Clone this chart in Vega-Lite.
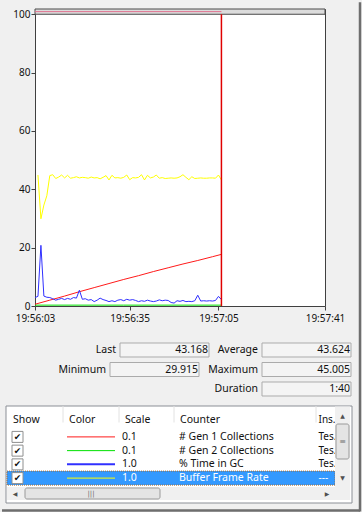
{
"$schema": "https://vega.github.io/schema/vega-lite/v6.json",
"background": "#f0f0f0",
"padding": 0,
"spacing": 0,
"bounds": "flush",
"config": {
  "font": "Noto Sans",
  "view": {"stroke": null},
  "text": {"font": "Noto Sans", "fontSize": 10, "color": "#111111", "baseline": "middle"}
},
"vconcat": [
{
  "width": 290, "height": 297,
  "view": {"stroke": "#404040", "fill": "#ffffff"},
  "layer": [
    {
      "data": {"values": [{}]},
      "mark": {"type": "rect", "fill": "#dcdcdc", "stroke": "#4a4a4a", "strokeWidth": 1},
      "encoding": {
        "x": {"datum": {"year":1900,"month":1,"date":1,"hours":19,"minutes":56,"seconds":3}, "type": "temporal"},
        "x2": {"datum": {"year":1900,"month":1,"date":1,"hours":19,"minutes":57,"seconds":41}},
        "y": {"datum": 100, "type": "quantitative"},
        "y2": {"datum": 101.8}
      }
    },
    {
      "data": {"values": [{}]},
      "mark": {"type": "rule", "color": "#e0708e", "strokeWidth": 1},
      "encoding": {
        "x": {"datum": {"year":1900,"month":1,"date":1,"hours":19,"minutes":56,"seconds":3}, "type": "temporal"},
        "x2": {"datum": {"year":1900,"month":1,"date":1,"hours":19,"minutes":57,"seconds":6}},
        "y": {"datum": 100.9, "type": "quantitative"}
      }
    },
    {
      "data": {
        "format": {"parse": {"time": "date:'%H:%M:%S'"}},
        "values": [
{"time":"19:56:03","counter":"# Gen 2 Collections","value":0.3},
{"time":"19:56:33","counter":"# Gen 2 Collections","value":0.3},
{"time":"19:57:06","counter":"# Gen 2 Collections","value":0.3},
{"time":"19:56:03","counter":"# Gen 1 Collections","value":0.6},
{"time":"19:56:08","counter":"# Gen 1 Collections","value":2.0},
{"time":"19:56:13","counter":"# Gen 1 Collections","value":3.4},
{"time":"19:56:18","counter":"# Gen 1 Collections","value":4.9},
{"time":"19:56:23","counter":"# Gen 1 Collections","value":6.3},
{"time":"19:56:28","counter":"# Gen 1 Collections","value":7.7},
{"time":"19:56:33","counter":"# Gen 1 Collections","value":9.1},
{"time":"19:56:38","counter":"# Gen 1 Collections","value":10.4},
{"time":"19:56:43","counter":"# Gen 1 Collections","value":11.8},
{"time":"19:56:48","counter":"# Gen 1 Collections","value":13.1},
{"time":"19:56:53","counter":"# Gen 1 Collections","value":14.4},
{"time":"19:56:58","counter":"# Gen 1 Collections","value":15.6},
{"time":"19:57:03","counter":"# Gen 1 Collections","value":16.9},
{"time":"19:57:06","counter":"# Gen 1 Collections","value":17.7},
{"time":"19:56:03","counter":"% Time in GC","value":2.9},
{"time":"19:56:04","counter":"% Time in GC","value":3.3},
{"time":"19:56:05","counter":"% Time in GC","value":20.8},
{"time":"19:56:06","counter":"% Time in GC","value":3.4},
{"time":"19:56:07","counter":"% Time in GC","value":3.0},
{"time":"19:56:08","counter":"% Time in GC","value":2.9},
{"time":"19:56:09","counter":"% Time in GC","value":2.5},
{"time":"19:56:10","counter":"% Time in GC","value":2.0},
{"time":"19:56:11","counter":"% Time in GC","value":2.3},
{"time":"19:56:12","counter":"% Time in GC","value":2.6},
{"time":"19:56:13","counter":"% Time in GC","value":2.2},
{"time":"19:56:14","counter":"% Time in GC","value":2.6},
{"time":"19:56:15","counter":"% Time in GC","value":2.3},
{"time":"19:56:16","counter":"% Time in GC","value":2.9},
{"time":"19:56:17","counter":"% Time in GC","value":2.7},
{"time":"19:56:18","counter":"% Time in GC","value":5.4},
{"time":"19:56:19","counter":"% Time in GC","value":2.3},
{"time":"19:56:20","counter":"% Time in GC","value":2.5},
{"time":"19:56:21","counter":"% Time in GC","value":2.0},
{"time":"19:56:22","counter":"% Time in GC","value":2.2},
{"time":"19:56:23","counter":"% Time in GC","value":1.5},
{"time":"19:56:24","counter":"% Time in GC","value":2.0},
{"time":"19:56:25","counter":"% Time in GC","value":2.7},
{"time":"19:56:26","counter":"% Time in GC","value":2.2},
{"time":"19:56:27","counter":"% Time in GC","value":1.9},
{"time":"19:56:28","counter":"% Time in GC","value":1.5},
{"time":"19:56:29","counter":"% Time in GC","value":1.8},
{"time":"19:56:30","counter":"% Time in GC","value":1.5},
{"time":"19:56:31","counter":"% Time in GC","value":2.0},
{"time":"19:56:32","counter":"% Time in GC","value":2.2},
{"time":"19:56:33","counter":"% Time in GC","value":1.8},
{"time":"19:56:34","counter":"% Time in GC","value":2.3},
{"time":"19:56:35","counter":"% Time in GC","value":2.0},
{"time":"19:56:36","counter":"% Time in GC","value":2.2},
{"time":"19:56:37","counter":"% Time in GC","value":1.9},
{"time":"19:56:38","counter":"% Time in GC","value":1.5},
{"time":"19:56:39","counter":"% Time in GC","value":1.8},
{"time":"19:56:40","counter":"% Time in GC","value":1.6},
{"time":"19:56:41","counter":"% Time in GC","value":2.0},
{"time":"19:56:42","counter":"% Time in GC","value":1.7},
{"time":"19:56:43","counter":"% Time in GC","value":1.5},
{"time":"19:56:44","counter":"% Time in GC","value":1.7},
{"time":"19:56:45","counter":"% Time in GC","value":2.1},
{"time":"19:56:46","counter":"% Time in GC","value":1.8},
{"time":"19:56:47","counter":"% Time in GC","value":2.0},
{"time":"19:56:48","counter":"% Time in GC","value":1.9},
{"time":"19:56:49","counter":"% Time in GC","value":1.2},
{"time":"19:56:50","counter":"% Time in GC","value":1.0},
{"time":"19:56:51","counter":"% Time in GC","value":1.8},
{"time":"19:56:52","counter":"% Time in GC","value":1.6},
{"time":"19:56:53","counter":"% Time in GC","value":1.9},
{"time":"19:56:54","counter":"% Time in GC","value":1.5},
{"time":"19:56:55","counter":"% Time in GC","value":1.6},
{"time":"19:56:56","counter":"% Time in GC","value":1.5},
{"time":"19:56:57","counter":"% Time in GC","value":1.8},
{"time":"19:56:58","counter":"% Time in GC","value":3.7},
{"time":"19:56:59","counter":"% Time in GC","value":1.7},
{"time":"19:57:00","counter":"% Time in GC","value":1.8},
{"time":"19:57:01","counter":"% Time in GC","value":1.7},
{"time":"19:57:02","counter":"% Time in GC","value":1.8},
{"time":"19:57:03","counter":"% Time in GC","value":1.7},
{"time":"19:57:04","counter":"% Time in GC","value":1.9},
{"time":"19:57:05","counter":"% Time in GC","value":3.3},
{"time":"19:57:06","counter":"% Time in GC","value":2.2},
{"time":"19:56:04","counter":"Buffer Frame Rate","value":44.9},
{"time":"19:56:05","counter":"Buffer Frame Rate","value":29.9},
{"time":"19:56:06","counter":"Buffer Frame Rate","value":34.6},
{"time":"19:56:07","counter":"Buffer Frame Rate","value":37.8},
{"time":"19:56:08","counter":"Buffer Frame Rate","value":44.7},
{"time":"19:56:09","counter":"Buffer Frame Rate","value":45.0},
{"time":"19:56:10","counter":"Buffer Frame Rate","value":43.7},
{"time":"19:56:11","counter":"Buffer Frame Rate","value":44.2},
{"time":"19:56:12","counter":"Buffer Frame Rate","value":44.9},
{"time":"19:56:13","counter":"Buffer Frame Rate","value":43.9},
{"time":"19:56:14","counter":"Buffer Frame Rate","value":44.8},
{"time":"19:56:15","counter":"Buffer Frame Rate","value":43.8},
{"time":"19:56:16","counter":"Buffer Frame Rate","value":44.0},
{"time":"19:56:17","counter":"Buffer Frame Rate","value":44.3},
{"time":"19:56:18","counter":"Buffer Frame Rate","value":43.9},
{"time":"19:56:19","counter":"Buffer Frame Rate","value":44.1},
{"time":"19:56:20","counter":"Buffer Frame Rate","value":44.0},
{"time":"19:56:21","counter":"Buffer Frame Rate","value":43.8},
{"time":"19:56:22","counter":"Buffer Frame Rate","value":44.2},
{"time":"19:56:23","counter":"Buffer Frame Rate","value":43.9},
{"time":"19:56:24","counter":"Buffer Frame Rate","value":44.0},
{"time":"19:56:25","counter":"Buffer Frame Rate","value":43.6},
{"time":"19:56:26","counter":"Buffer Frame Rate","value":44.1},
{"time":"19:56:27","counter":"Buffer Frame Rate","value":44.7},
{"time":"19:56:28","counter":"Buffer Frame Rate","value":43.2},
{"time":"19:56:29","counter":"Buffer Frame Rate","value":44.8},
{"time":"19:56:30","counter":"Buffer Frame Rate","value":43.9},
{"time":"19:56:31","counter":"Buffer Frame Rate","value":44.0},
{"time":"19:56:32","counter":"Buffer Frame Rate","value":43.8},
{"time":"19:56:33","counter":"Buffer Frame Rate","value":44.1},
{"time":"19:56:34","counter":"Buffer Frame Rate","value":44.9},
{"time":"19:56:35","counter":"Buffer Frame Rate","value":43.3},
{"time":"19:56:36","counter":"Buffer Frame Rate","value":44.0},
{"time":"19:56:37","counter":"Buffer Frame Rate","value":43.9},
{"time":"19:56:38","counter":"Buffer Frame Rate","value":44.1},
{"time":"19:56:39","counter":"Buffer Frame Rate","value":45.0},
{"time":"19:56:40","counter":"Buffer Frame Rate","value":43.2},
{"time":"19:56:41","counter":"Buffer Frame Rate","value":44.8},
{"time":"19:56:42","counter":"Buffer Frame Rate","value":43.9},
{"time":"19:56:43","counter":"Buffer Frame Rate","value":44.2},
{"time":"19:56:44","counter":"Buffer Frame Rate","value":44.9},
{"time":"19:56:45","counter":"Buffer Frame Rate","value":43.8},
{"time":"19:56:46","counter":"Buffer Frame Rate","value":44.0},
{"time":"19:56:47","counter":"Buffer Frame Rate","value":43.7},
{"time":"19:56:48","counter":"Buffer Frame Rate","value":43.8},
{"time":"19:56:49","counter":"Buffer Frame Rate","value":43.9},
{"time":"19:56:50","counter":"Buffer Frame Rate","value":43.8},
{"time":"19:56:51","counter":"Buffer Frame Rate","value":43.9},
{"time":"19:56:52","counter":"Buffer Frame Rate","value":44.3},
{"time":"19:56:53","counter":"Buffer Frame Rate","value":45.0},
{"time":"19:56:54","counter":"Buffer Frame Rate","value":44.1},
{"time":"19:56:55","counter":"Buffer Frame Rate","value":43.3},
{"time":"19:56:56","counter":"Buffer Frame Rate","value":44.3},
{"time":"19:56:57","counter":"Buffer Frame Rate","value":43.7},
{"time":"19:56:58","counter":"Buffer Frame Rate","value":43.8},
{"time":"19:56:59","counter":"Buffer Frame Rate","value":43.9},
{"time":"19:57:00","counter":"Buffer Frame Rate","value":43.8},
{"time":"19:57:01","counter":"Buffer Frame Rate","value":43.8},
{"time":"19:57:02","counter":"Buffer Frame Rate","value":43.9},
{"time":"19:57:03","counter":"Buffer Frame Rate","value":43.9},
{"time":"19:57:04","counter":"Buffer Frame Rate","value":43.8},
{"time":"19:57:05","counter":"Buffer Frame Rate","value":44.9},
{"time":"19:57:06","counter":"Buffer Frame Rate","value":43.2}
        ]
      },
      "mark": {"type": "line", "strokeWidth": 1},
      "encoding": {
        "x": {"field": "time", "type": "temporal",
              "scale": {"domain": [{"year":1900,"month":1,"date":1,"hours":19,"minutes":56,"seconds":3}, {"year":1900,"month":1,"date":1,"hours":19,"minutes":57,"seconds":41}], "nice": false},
              "axis": {"values": [{"year":1900,"month":1,"date":1,"hours":19,"minutes":56,"seconds":3}, {"year":1900,"month":1,"date":1,"hours":19,"minutes":56,"seconds":35}, {"year":1900,"month":1,"date":1,"hours":19,"minutes":57,"seconds":5}, {"year":1900,"month":1,"date":1,"hours":19,"minutes":57,"seconds":41}],
                       "format": "%H:%M:%S", "title": null, "grid": false, "domain": false, "tickSize": 4, "tickColor": "#404040",
                       "labelPadding": 3, "labelFont": "Noto Sans", "labelFontSize": 10, "labelColor": "#111111", "labelFlush": false, "labelOverlap": false,
                       "minExtent": 25, "maxExtent": 25}},
        "y": {"field": "value", "type": "quantitative",
              "scale": {"domain": [0, 101.8], "nice": false, "zero": false},
              "axis": {"values": [0, 20, 40, 60, 80, 100], "title": null, "grid": false, "domain": false, "tickSize": 4, "tickColor": "#404040",
                       "labelPadding": 1, "labelFont": "Noto Sans", "labelFontSize": 10, "labelColor": "#111111", "minExtent": 34, "maxExtent": 34}},
        "color": {"field": "counter", "type": "nominal",
                  "scale": {"domain": ["# Gen 1 Collections", "# Gen 2 Collections", "% Time in GC", "Buffer Frame Rate"], "range": ["#ff1a1a", "#00e000", "#3030ff", "#ffff00"]},
                  "legend": null},
        "strokeWidth": {"condition": {"test": "datum.counter === '# Gen 2 Collections' || datum.counter === '% Time in GC'", "value": 1.5}, "value": 1}
      }
    },
    {
      "data": {"values": [{}]},
      "mark": {"type": "rule", "color": "#e00000", "strokeWidth": 1.5},
      "encoding": {
        "x": {"datum": {"year":1900,"month":1,"date":1,"hours":19,"minutes":57,"seconds":6}, "type": "temporal"},
        "y": {"datum": 0, "type": "quantitative"},
        "y2": {"datum": 100}
      }
    },
    {
      "data": {"values": [{}]},
      "mark": {"type": "rule", "color": "#6e6e6e", "strokeWidth": 2.5},
      "encoding": {
        "x": {"datum": {"year":1900,"month":1,"date":1,"hours":19,"minutes":57,"seconds":52,"milliseconds":830}, "type": "temporal"},
        "y": {"datum": -8.57, "type": "quantitative"},
        "y2": {"datum": 104.1}
      }
    }
  ]
},
{
  "width": 328, "height": 95,
  "data": {"values": [
    {"stat": "Last", "value": "43.168", "column": 1, "line": 1},
    {"stat": "Average", "value": "43.624", "column": 2, "line": 1},
    {"stat": "Minimum", "value": "29.915", "column": 1, "line": 2},
    {"stat": "Maximum", "value": "45.005", "column": 2, "line": 2},
    {"stat": "Duration", "value": "1:40", "column": 2, "line": 3}
  ]},
  "layer": [
    {
      "transform": [{"filter": "datum.stat !== 'Last'"}],
      "mark": {"type": "rect", "xOffset": 4, "x2Offset": 93, "yOffset": -7, "y2Offset": 7, "fill": "#f4f4f4", "stroke": "#ababab", "strokeWidth": 1},
      "encoding": {
        "x": {"field": "column", "type": "quantitative", "scale": {"domain": [1, 2], "range": [71, 223], "nice": false, "zero": false}, "axis": null},
        "x2": {"field": "column"},
        "y": {"field": "line", "type": "quantitative", "scale": {"domain": [1, 3], "range": [44, 83], "nice": false, "zero": false}, "axis": null},
        "y2": {"field": "line"}
      }
    },
    {
      "transform": [{"filter": "datum.stat === 'Last'"}],
      "mark": {"type": "rect", "xOffset": 14, "x2Offset": 103, "yOffset": -7, "y2Offset": 7, "fill": "#f4f4f4", "stroke": "#ababab", "strokeWidth": 1},
      "encoding": {
        "x": {"field": "column", "type": "quantitative", "axis": null},
        "x2": {"field": "column"},
        "y": {"field": "line", "type": "quantitative", "axis": null},
        "y2": {"field": "line"}
      }
    },
    {
      "transform": [{"filter": "datum.stat !== 'Last'"}],
      "mark": {"type": "text", "align": "right", "baseline": "middle", "fontSize": 10.5},
      "encoding": {
        "x": {"field": "column", "type": "quantitative", "axis": null},
        "y": {"field": "line", "type": "quantitative", "axis": null},
        "text": {"field": "stat"}
      }
    },
    {
      "transform": [{"filter": "datum.stat === 'Last'"}],
      "mark": {"type": "text", "align": "right", "baseline": "middle", "fontSize": 10.5, "dx": 10},
      "encoding": {
        "x": {"field": "column", "type": "quantitative", "axis": null},
        "y": {"field": "line", "type": "quantitative", "axis": null},
        "text": {"field": "stat"}
      }
    },
    {
      "transform": [{"filter": "datum.stat !== 'Last'"}],
      "mark": {"type": "text", "align": "right", "baseline": "middle", "fontSize": 10.5, "dx": 92},
      "encoding": {
        "x": {"field": "column", "type": "quantitative", "axis": null},
        "y": {"field": "line", "type": "quantitative", "axis": null},
        "text": {"field": "value"}
      }
    },
    {
      "transform": [{"filter": "datum.stat === 'Last'"}],
      "mark": {"type": "text", "align": "right", "baseline": "middle", "fontSize": 10.5, "dx": 102},
      "encoding": {
        "x": {"field": "column", "type": "quantitative", "axis": null},
        "y": {"field": "line", "type": "quantitative", "axis": null},
        "text": {"field": "value"}
      }
    },
    {
      "data": {"values": [{}]},
      "mark": {"type": "rule", "color": "#6e6e6e", "strokeWidth": 2.5, "yOffset": -19, "y2Offset": 12},
      "encoding": {
        "x": {"datum": 2.671, "type": "quantitative", "axis": null},
        "y": {"datum": 1, "type": "quantitative", "axis": null},
        "y2": {"datum": 3}
      }
    }
  ]
},
{
  "width": 328, "height": 112,
  "data": {"values": [
    {"row": 1, "counter": "# Gen 1 Collections", "scale": "0.1", "instance": "TestApp", "selected": false},
    {"row": 2, "counter": "# Gen 2 Collections", "scale": "0.1", "instance": "TestApp", "selected": false},
    {"row": 3, "counter": "% Time in GC", "scale": "1.0", "instance": "TestApp", "selected": false},
    {"row": 4, "counter": "Buffer Frame Rate", "scale": "1.0", "instance": "---", "selected": true}
  ]},
  "layer": [
    {
      "data": {"values": [{}]},
      "mark": {"type": "rect", "xOffset": -1, "x2Offset": 2, "yOffset": -12.5, "y2Offset": 9.5, "fill": "#ffffff", "stroke": "#8b8f96", "strokeWidth": 1},
      "encoding": {
        "x": {"datum": 1, "type": "quantitative", "scale": {"domain": [1, 2, 3, 4, 5, 6, 7], "range": [-28, 28, 84, 139, 281, 300, 315], "nice": false, "zero": false}, "axis": null},
        "x2": {"datum": 7},
        "y": {"datum": 0, "type": "quantitative", "scale": {"domain": [0, 1, 4, 5], "range": [17.5, 35.9, 77.1, 92.5], "nice": false, "zero": false}, "axis": null},
        "y2": {"datum": 5}
      }
    },
    {
      "data": {"values": [{"col": 1, "label": "Show"}, {"col": 2, "label": "Color"}, {"col": 3, "label": "Scale"}, {"col": 4, "label": "Counter"}, {"col": 5, "label": "Instance"}]},
      "transform": [{"filter": "datum.col >= 2"}],
      "mark": {"type": "rule", "color": "#e2e2e2", "yOffset": -12.5, "y2Offset": 4},
      "encoding": {
        "x": {"field": "col", "type": "quantitative", "axis": null},
        "y": {"datum": 0, "type": "quantitative", "axis": null},
        "y2": {"datum": 0}
      }
    },
    {
      "data": {"values": [{"col": 1, "label": "Show"}, {"col": 2, "label": "Color"}, {"col": 3, "label": "Scale"}, {"col": 4, "label": "Counter"}, {"col": 5, "label": "Instance"}]},
      "transform": [{"filter": "datum.col <= 4"}],
      "mark": {"type": "text", "align": "left", "baseline": "middle", "fontSize": 10.5, "dx": 6, "dy": 1},
      "encoding": {
        "x": {"field": "col", "type": "quantitative", "axis": null},
        "y": {"datum": 0, "type": "quantitative", "axis": null},
        "text": {"field": "label"}
      }
    },
    {
      "data": {"values": [{"col": 1, "label": "Show"}, {"col": 2, "label": "Color"}, {"col": 3, "label": "Scale"}, {"col": 4, "label": "Counter"}, {"col": 5, "label": "Instance"}]},
      "transform": [{"filter": "datum.col === 5"}],
      "mark": {"type": "text", "align": "left", "baseline": "middle", "fontSize": 10, "dx": 2.5, "dy": 1, "limit": 24.5, "ellipsis": ""},
      "encoding": {
        "x": {"field": "col", "type": "quantitative", "axis": null},
        "y": {"datum": 0, "type": "quantitative", "axis": null},
        "text": {"field": "label"}
      }
    },
    {
      "transform": [{"filter": "datum.selected"}],
      "mark": {"type": "rect", "yOffset": -7, "y2Offset": 7, "fill": "#3399ff", "stroke": "#a86a2e", "strokeDash": [1, 1], "strokeWidth": 1},
      "encoding": {
        "x": {"datum": 1, "type": "quantitative", "axis": null},
        "x2": {"datum": 6},
        "y": {"field": "row", "type": "quantitative", "axis": null},
        "y2": {"field": "row"}
      }
    },
    {
      "mark": {"type": "rect", "xOffset": 5, "x2Offset": 16, "yOffset": -5.5, "y2Offset": 5.5, "fill": "#ffffff", "stroke": "#8e8f8f", "strokeWidth": 1},
      "encoding": {
        "x": {"datum": 1, "type": "quantitative", "axis": null},
        "x2": {"datum": 1},
        "y": {"field": "row", "type": "quantitative", "axis": null},
        "y2": {"field": "row"}
      }
    },
    {
      "mark": {"type": "text", "align": "center", "baseline": "middle", "dx": 10.5, "font": "DejaVu Sans", "fontSize": 9, "color": "#111111"},
      "encoding": {
        "x": {"datum": 1, "type": "quantitative", "axis": null},
        "y": {"field": "row", "type": "quantitative", "axis": null},
        "text": {"value": "✔"}
      }
    },
    {
      "mark": {"type": "rule", "xOffset": 4, "x2Offset": 52},
      "encoding": {
        "x": {"datum": 2, "type": "quantitative", "axis": null},
        "x2": {"datum": 2},
        "y": {"field": "row", "type": "quantitative", "axis": null},
        "color": {"field": "counter", "type": "nominal",
                  "scale": {"domain": ["# Gen 1 Collections", "# Gen 2 Collections", "% Time in GC", "Buffer Frame Rate"], "range": ["#ff1a1a", "#00e000", "#3030ff", "#ffff00"]},
                  "legend": null},
        "strokeWidth": {"condition": {"test": "datum.counter === '% Time in GC'", "value": 2}, "value": 1}
      }
    },
    {
      "mark": {"type": "text", "align": "left", "baseline": "middle", "fontSize": 10.5, "dx": 3},
      "encoding": {
        "x": {"datum": 3, "type": "quantitative", "axis": null},
        "y": {"field": "row", "type": "quantitative", "axis": null},
        "text": {"field": "scale"},
        "color": {"condition": {"test": "datum.selected", "value": "#ffffff"}, "value": "#111111"}
      }
    },
    {
      "mark": {"type": "text", "align": "left", "baseline": "middle", "fontSize": 10.5, "dx": 5},
      "encoding": {
        "x": {"datum": 4, "type": "quantitative", "axis": null},
        "y": {"field": "row", "type": "quantitative", "axis": null},
        "text": {"field": "counter"},
        "color": {"condition": {"test": "datum.selected", "value": "#ffffff"}, "value": "#111111"}
      }
    },
    {
      "mark": {"type": "text", "align": "left", "baseline": "middle", "fontSize": 10, "dx": 2.5, "limit": 24.5, "ellipsis": ""},
      "encoding": {
        "x": {"datum": 5, "type": "quantitative", "axis": null},
        "y": {"field": "row", "type": "quantitative", "axis": null},
        "text": {"field": "instance"},
        "color": {"condition": {"test": "datum.selected", "value": "#ffffff"}, "value": "#111111"}
      }
    },
    {
      "data": {"values": [{}]},
      "mark": {"type": "rect", "yOffset": -12, "y2Offset": 6.5, "fill": "#f0f0f0"},
      "encoding": {
        "x": {"datum": 6, "type": "quantitative", "axis": null},
        "x2": {"datum": 7},
        "y": {"datum": 0, "type": "quantitative", "axis": null},
        "y2": {"datum": 5}
      }
    },
    {
      "data": {"values": [{}]},
      "mark": {"type": "rect", "yOffset": -6.5, "y2Offset": 6.5, "fill": "#f0f0f0"},
      "encoding": {
        "x": {"datum": 1, "type": "quantitative", "axis": null},
        "x2": {"datum": 6},
        "y": {"datum": 5, "type": "quantitative", "axis": null},
        "y2": {"datum": 5}
      }
    },
    {
      "data": {"values": [{}]},
      "mark": {"type": "rect", "xOffset": 1, "x2Offset": -1, "yOffset": 5.5, "y2Offset": 40.5, "fill": "#e4e4e4", "stroke": "#9a9a9a", "strokeWidth": 1, "cornerRadius": 2},
      "encoding": {
        "x": {"datum": 6, "type": "quantitative", "axis": null},
        "x2": {"datum": 7},
        "y": {"datum": 0, "type": "quantitative", "axis": null},
        "y2": {"datum": 0}
      }
    },
    {
      "data": {"values": [{}]},
      "mark": {"type": "rect", "xOffset": 18, "x2Offset": 153, "yOffset": -5.5, "y2Offset": 5.5, "fill": "#e4e4e4", "stroke": "#9a9a9a", "strokeWidth": 1, "cornerRadius": 2},
      "encoding": {
        "x": {"datum": 1, "type": "quantitative", "axis": null},
        "x2": {"datum": 1},
        "y": {"datum": 5, "type": "quantitative", "axis": null},
        "y2": {"datum": 5}
      }
    },
    {
      "data": {"values": [{}]},
      "mark": {"type": "text", "align": "center", "baseline": "middle", "font": "DejaVu Sans", "fontSize": 6, "color": "#505050", "dx": 7.5, "dy": -2.5},
      "encoding": {"x": {"datum": 6, "type": "quantitative", "axis": null}, "y": {"datum": 0, "type": "quantitative", "axis": null}, "text": {"value": "▲"}}
    },
    {
      "data": {"values": [{}]},
      "mark": {"type": "text", "align": "center", "baseline": "middle", "font": "DejaVu Sans", "fontSize": 6, "color": "#505050", "dx": 7.5, "dy": -0.5},
      "encoding": {"x": {"datum": 6, "type": "quantitative", "axis": null}, "y": {"datum": 4, "type": "quantitative", "axis": null}, "text": {"value": "▼"}}
    },
    {
      "data": {"values": [{}]},
      "mark": {"type": "text", "align": "center", "baseline": "middle", "font": "DejaVu Sans", "fontSize": 8, "color": "#707070", "dx": 7.5, "dy": 23},
      "encoding": {"x": {"datum": 6, "type": "quantitative", "axis": null}, "y": {"datum": 0, "type": "quantitative", "axis": null}, "text": {"value": "≡"}}
    },
    {
      "data": {"values": [{}]},
      "mark": {"type": "text", "align": "center", "baseline": "middle", "font": "DejaVu Sans", "fontSize": 6, "color": "#505050", "dx": 8},
      "encoding": {"x": {"datum": 1, "type": "quantitative", "axis": null}, "y": {"datum": 5, "type": "quantitative", "axis": null}, "text": {"value": "◀"}}
    },
    {
      "data": {"values": [{}]},
      "mark": {"type": "text", "align": "center", "baseline": "middle", "font": "DejaVu Sans", "fontSize": 6, "color": "#505050", "dx": -8},
      "encoding": {"x": {"datum": 6, "type": "quantitative", "axis": null}, "y": {"datum": 5, "type": "quantitative", "axis": null}, "text": {"value": "▶"}}
    },
    {
      "data": {"values": [{}]},
      "mark": {"type": "text", "align": "center", "baseline": "middle", "font": "DejaVu Sans", "fontSize": 7, "color": "#707070", "dx": 84},
      "encoding": {"x": {"datum": 1, "type": "quantitative", "axis": null}, "y": {"datum": 5, "type": "quantitative", "axis": null}, "text": {"value": "|||"}}
    },
    {
      "data": {"values": [{}]},
      "mark": {"type": "rule", "color": "#6e6e6e", "strokeWidth": 2.5, "xOffset": -5, "x2Offset": 10, "yOffset": 17},
      "encoding": {
        "x": {"datum": 1, "type": "quantitative", "axis": null},
        "x2": {"datum": 7},
        "y": {"datum": 5, "type": "quantitative", "axis": null}
      }
    },
    {
      "data": {"values": [{}]},
      "mark": {"type": "rule", "color": "#6e6e6e", "strokeWidth": 2.5, "xOffset": 10, "yOffset": -17.5, "y2Offset": 18},
      "encoding": {
        "x": {"datum": 7, "type": "quantitative", "axis": null},
        "y": {"datum": 0, "type": "quantitative", "axis": null},
        "y2": {"datum": 5}
      }
    }
  ]
}
]
}
